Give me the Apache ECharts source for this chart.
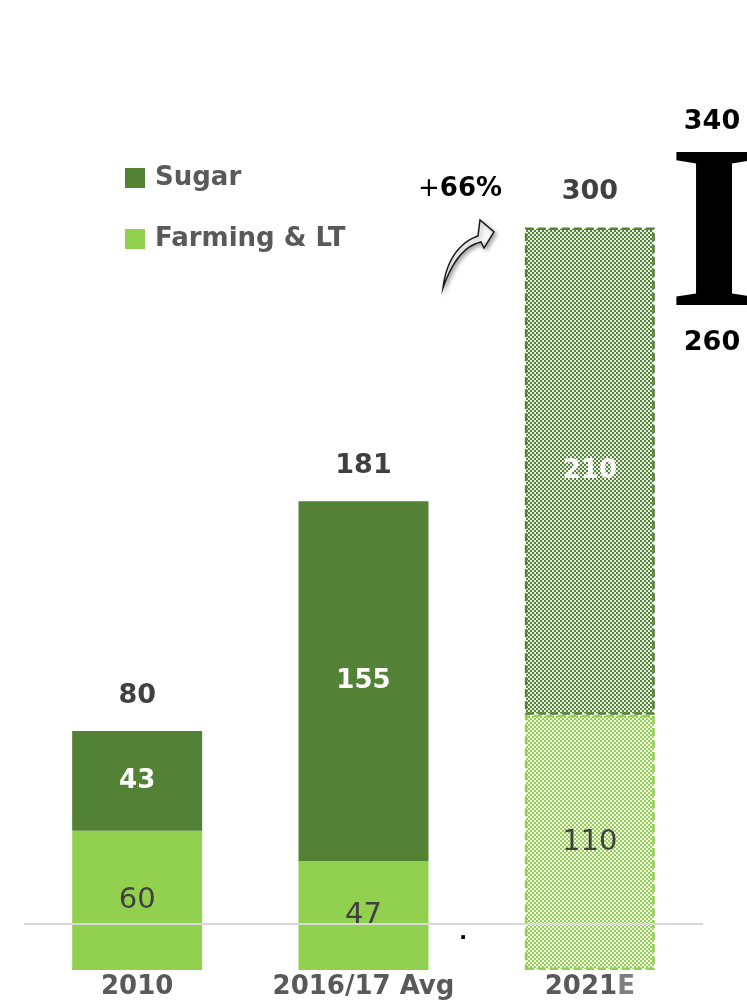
<!DOCTYPE html>
<html>
<head>
<meta charset="utf-8">
<script src="https://cdn.jsdelivr.net/npm/echarts@6/dist/echarts.min.js"></script>
<style>
  html, body { margin: 0; padding: 0; background: #fff; }
  #chart { width: 747px; height: 1004px; }
</style>
</head>
<body>
<div id="chart"></div>
<script>
// data
const categories = ["2010", "2016/17 Avg", "2021E"];
const farming = [60, 47, 110];
const sugar = [43, 155, 210];
const totals = [80, 181, 300];
const rangeHigh = 340;
const rangeLow = 260;
const growthLabel = "66%";

// small checker pattern for the estimate bar
function checker(dark, light) {
  let c = document.createElement("canvas");
  c.width = 4;
  c.height = 4;
  let ctx = c.getContext("2d");
  ctx.fillStyle = light;
  ctx.fillRect(0, 0, 4, 4);
  ctx.fillStyle = dark;
  ctx.fillRect(0, 0, 2, 2);
  ctx.fillRect(2, 2, 2, 2);
  return { image: c, repeat: "repeat" };
}

// outline of the little curved arrow (decoration)
function bez(p0, p1, p2, p3, n) {
  let pts = [];
  for (let i = 0; i <= n; i++) {
    let t = i / n, u = 1 - t;
    pts.push([
      u * u * u * p0[0] + 3 * u * u * t * p1[0] + 3 * u * t * t * p2[0] + t * t * t * p3[0],
      u * u * u * p0[1] + 3 * u * u * t * p1[1] + 3 * u * t * t * p2[1] + t * t * t * p3[1],
    ]);
  }
  return pts;
}
let arrowPts = bez([443, 288], [446, 262], [458, 243], [478, 236], 16)
  .concat([[480, 220], [494, 232], [484, 248]])
  .concat(bez([481, 242], [464, 246], [452, 262], [443, 288], 16));

const SUGAR = "#538135";
const FARM = "#92d050";
const FONT = "'DejaVu Sans', sans-serif";

let myChart = echarts.init(document.getElementById("chart"));

let farmData = farming.map((v, i) => {
  if (i < 2) return v;
  return {
    value: v,
    itemStyle: {
      color: checker(FARM, "#f3faec"),
      borderColor: FARM,
      borderWidth: 2.5,
      borderType: [8, 4],
    },
  };
});
let sugarData = sugar.map((v, i) => {
  if (i < 2) return v;
  return {
    value: v,
    itemStyle: {
      color: checker(SUGAR, "#e9f0e4"),
      borderColor: SUGAR,
      borderWidth: 2.5,
      borderType: [8, 4],
    },
  };
});

myChart.setOption({
  animation: false,
  textStyle: { fontFamily: FONT },
  legend: {
    data: ["Sugar", "Farming & LT"],
    orient: "vertical",
    left: 120,
    top: 158,
    icon: "rect",
    itemWidth: 20,
    itemHeight: 20,
    itemGap: 31,
    selectedMode: false,
    textStyle: {
      color: "#595959",
      fontSize: 26,
      fontWeight: "bold",
      lineHeight: 30,
      padding: [0, 0, 0, 5],
      fontFamily: FONT,
    },
  },
  grid: { left: 24, right: 44, top: 42, bottom: 34 },
  xAxis: {
    type: "category",
    data: categories,
    axisLine: { show: false },
    axisTick: { show: false },
    axisLabel: {
      interval: 0,
      hideOverlap: false,
      margin: 4,
      color: "#595959",
      fontSize: 26,
      fontWeight: "bold",
      fontFamily: FONT,
      formatter: (v) => (v.endsWith("E") ? v.slice(0, -1) + "{e|E}" : v),
      rich: {
        e: { color: "#7f7f7f", fontSize: 26, fontFamily: FONT },
      },
    },
  },
  yAxis: { type: "value", min: 0, max: 400, show: false },
  graphic: [
    {
      type: "text",
      left: 418,
      top: 176,
      style: {
        text: "{p|+}{b|" + growthLabel + "}",
        rich: {
          p: { fontSize: 26, fill: "#000", fontFamily: FONT },
          b: { fontSize: 26, fontWeight: "bold", fill: "#000", fontFamily: FONT },
        },
      },
    },
    {
      type: "polygon",
      shape: { points: arrowPts },
      style: {
        fill: "#fafafa",
        stroke: "#1a1a1a",
        lineWidth: 1.5,
        shadowBlur: 4,
        shadowColor: "rgba(0,0,0,0.35)",
        shadowOffsetX: 2,
        shadowOffsetY: 2,
      },
    },
    {
      type: "text",
      x: 712,
      y: 122,
      style: {
        text: String(rangeHigh),
        align: "center",
        verticalAlign: "middle",
        fontSize: 27,
        fontWeight: "bold",
        fill: "#000",
        fontFamily: FONT,
      },
    },
    {
      type: "text",
      x: 714,
      y: 245,
      style: {
        text: "I",
        align: "center",
        verticalAlign: "middle",
        fontSize: 234,
        fontWeight: "bold",
        fill: "#000",
        fontFamily: "'Liberation Serif', 'DejaVu Serif', serif",
      },
    },
    {
      type: "text",
      x: 712,
      y: 343,
      style: {
        text: String(rangeLow),
        align: "center",
        verticalAlign: "middle",
        fontSize: 27,
        fontWeight: "bold",
        fill: "#000",
        fontFamily: FONT,
      },
    },
    {
      type: "text",
      x: 463,
      y: 932,
      style: {
        text: ".",
        align: "center",
        verticalAlign: "middle",
        fontSize: 26,
        fontWeight: "bold",
        fill: "#000",
      },
    },
  ],
  series: [
    {
      name: "Farming & LT",
      type: "bar",
      stack: "total",
      barWidth: 130,
      data: farmData,
      itemStyle: { color: FARM },
      label: {
        show: true,
        position: "inside",
        color: "#404040",
        fontSize: 29,
        fontFamily: FONT,
      },
      markLine: {
        silent: true,
        symbol: "none",
        label: { show: false },
        lineStyle: { color: "#d9d9d9", width: 2, type: "solid" },
        data: [{ yAxis: 20 }],
      },
    },
    {
      name: "Sugar",
      type: "bar",
      stack: "total",
      barWidth: 130,
      data: sugarData,
      itemStyle: { color: SUGAR },
      label: {
        show: true,
        position: "inside",
        color: "#fff",
        fontSize: 26,
        fontWeight: "bold",
        fontFamily: FONT,
      },
    },
    {
      name: "Total",
      type: "bar",
      stack: "total",
      barWidth: 130,
      data: totals.map(() => 0),
      itemStyle: { color: "transparent" },
      label: {
        show: true,
        position: "top",
        distance: 22,
        color: "#404040",
        fontSize: 27,
        fontWeight: "bold",
        fontFamily: FONT,
        formatter: (p) => totals[p.dataIndex],
      },
    },
  ],
});
</script>
</body>
</html>
